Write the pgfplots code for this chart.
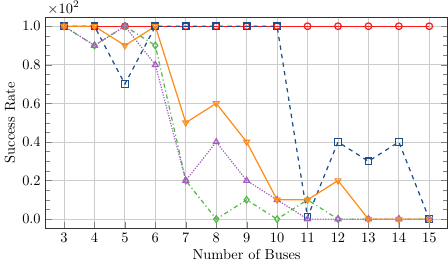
\documentclass[border=0pt]{standalone}
\usepackage{pgfplots}
\pgfplotsset{compat=1.18}
\definecolor{cred}{HTML}{FF1A1A}
\definecolor{cblue}{HTML}{1A4F8C}
\definecolor{corange}{HTML}{FF8C1A}
\definecolor{cgreen}{HTML}{55B84A}
\definecolor{cpurple}{HTML}{A55EC0}
\begin{document}
\begin{tikzpicture}
\begin{axis}[
  scale only axis,
  width=279pt, height=146pt,
  xmin=2.4, xmax=15.6, ymin=-0.045, ymax=1.045,
  xtick={3,...,15},
  ytick={0,0.2,0.4,0.6,0.8,1.0},
  minor y tick num=3,
  yticklabel style={/pgf/number format/.cd,fixed,fixed zerofill,precision=1},
  tick align=inside,
  xtick pos=bottom,
  grid=major,
  major grid style={gray!40, line width=0.6pt},
  axis line style={black!80},
  xlabel={Number of Buses},
  ylabel={Success Rate},
  ylabel style={yshift=-2pt},
  xlabel style={yshift=2pt},
  every axis plot/.append style={line width=0.85pt, mark size=2.3pt, mark options={solid, fill=white, fill opacity=0.3}},
  clip=false,
]
\addplot[cred, mark=o] coordinates {(3,1)(4,1)(5,1)(6,1)(7,1)(8,1)(9,1)(10,1)(11,1)(12,1)(13,1)(14,1)(15,1)};
\addplot[cblue, dashed, mark=square] coordinates {(3,1)(4,1)(5,0.7)(6,1)(7,1)(8,1)(9,1)(10,1)(11,0.01)(12,0.4)(13,0.3)(14,0.4)(15,0)};
\addplot[cgreen, dash dot, mark=diamond] coordinates {(3,1)(4,0.9)(5,1)(6,0.9)(7,0.2)(8,0)(9,0.1)(10,0)(11,0.1)(12,0)(13,0)(14,0)(15,0)};
\addplot[cpurple, densely dotted, mark=triangle] coordinates {(3,1)(4,0.9)(5,1)(6,0.8)(7,0.2)(8,0.4)(9,0.2)(10,0.1)(11,0)(12,0)(13,0)(14,0)(15,0)};
\addplot[corange, mark=triangle, mark options={rotate=180}] coordinates {(3,1)(4,1)(5,0.9)(6,1)(7,0.5)(8,0.6)(9,0.4)(10,0.1)(11,0.1)(12,0.2)(13,0)(14,0)(15,0)};
\node[anchor=south west, inner sep=1pt, yshift=1pt] at (rel axis cs:0,1) {$\times10^{2}$};
\end{axis}
\end{tikzpicture}
\end{document}
